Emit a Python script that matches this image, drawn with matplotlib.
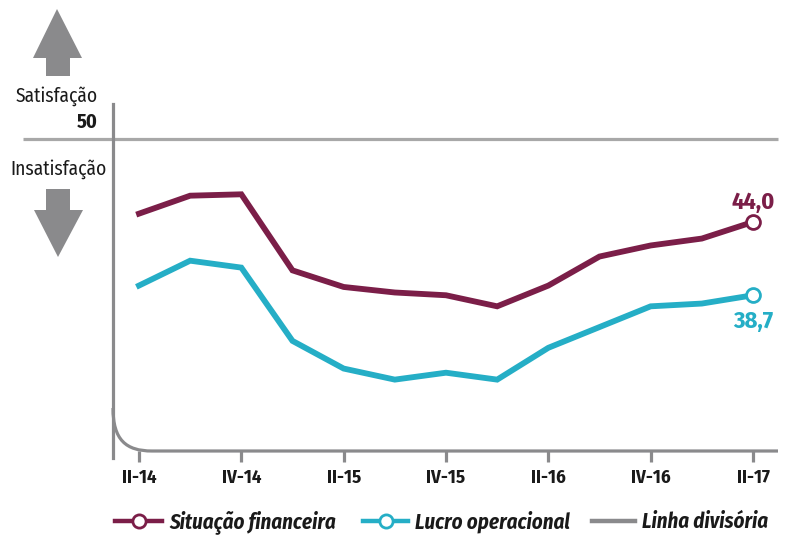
import numpy as np
from matplotlib import pyplot as plt
from matplotlib.path import Path
from matplotlib.patches import PathPatch, Polygon
from matplotlib.lines import Line2D
import matplotlib.transforms as mtransforms

# Quarterly index values (50 = dividing line between satisfaction / dissatisfaction)
quarters = ["II-14", "III-14", "IV-14", "I-15", "II-15", "III-15", "IV-15",
            "I-16", "II-16", "III-16", "IV-16", "I-17", "II-17"]
situacao = [44.6, 45.9, 46.0, 40.5, 39.3, 38.9, 38.7, 37.9, 39.4, 41.5, 42.3, 42.8, 44.0]
lucro = [39.4, 41.2, 40.7, 35.4, 33.4, 32.6, 33.1, 32.6, 34.9, 36.4, 37.9, 38.1, 38.7]
tick_labels = ["II-14", "IV-14", "II-15", "IV-15", "II-16", "IV-16", "II-17"]
divisoria = 50

PURPLE = "#7b1e48"
CYAN = "#25aec6"
GRAY = "#8a8a8c"
LIGHTGRAY = "#a8a8a8"
INK = "#1a1a1a"
FONT = ["Fira Sans Condensed", "DejaVu Sans"]

fig = plt.figure(figsize=(7.9, 5.37), dpi=100)
ax = fig.add_axes([0, 0, 1, 1])
ax.set_xlim(-2.716, 12.723)
ax.set_ylim(21.22, 60.05)
ax.axis("off")

# pixel transform (origin top-left) for the furniture around the plot
pix = mtransforms.Affine2D().scale(1, -1).translate(0, 537)

x = np.arange(len(quarters))

# dividing line at 50
ax.hlines(divisoria, -2.27, 12.49, color=LIGHTGRAY, lw=2.3, zorder=1)

# left axis with rounded corner into the baseline
ax.add_line(Line2D([113, 113], [104, 458], transform=pix, color=GRAY, lw=2.3))
verts = [(113, 408), (113, 440), (126, 451), (152, 451), (778, 451)]
codes = [Path.MOVETO, Path.CURVE4, Path.CURVE4, Path.CURVE4, Path.LINETO]
ax.add_patch(PathPatch(Path(verts, codes), transform=pix, fill=False,
                       edgecolor=GRAY, lw=2.3))

# ticks and labels on every second quarter
base = 27.44
for i, lab in zip(x[::2], tick_labels):
    ax.vlines(i, base - 0.8, base, color=GRAY, lw=2.3)
    ax.text(i, base - 1.95, lab, ha="center", va="center", fontsize=13.5,
            fontweight="bold", family=FONT, color=INK)

# series
ax.plot(x, situacao, color=PURPLE, lw=4.2, solid_joinstyle="miter", zorder=3)
ax.plot(x, lucro, color=CYAN, lw=4.2, solid_joinstyle="miter", zorder=3)
ax.plot(x[-1], situacao[-1], "o", ms=10, mfc="white", mec=PURPLE, mew=2, zorder=4)
ax.plot(x[-1], lucro[-1], "o", ms=10, mfc="white", mec=CYAN, mew=2, zorder=4)
ax.text(x[-1], situacao[-1] + 1.4, f"{situacao[-1]:.1f}".replace(".", ","),
        ha="center", va="center", fontsize=17.5, fontweight="bold", family=FONT, color=PURPLE)
ax.text(x[-1], lucro[-1] - 1.85, f"{lucro[-1]:.1f}".replace(".", ","),
        ha="center", va="center", fontsize=17.5, fontweight="bold", family=FONT, color=CYAN)

# satisfaction arrows and captions
up = [(57, 9), (82, 58), (70, 58), (70, 76), (46, 76), (46, 58), (33, 58)]
down = [(46, 189), (70, 189), (70, 210), (83, 210), (58, 257), (34, 210), (46, 210)]
ax.add_patch(Polygon(up, closed=True, transform=pix, color=GRAY, lw=0))
ax.add_patch(Polygon(down, closed=True, transform=pix, color=GRAY, lw=0))
ax.text(57, 96, "Satisfação", transform=pix, ha="center", va="center",
        fontsize=14, family=FONT, color=INK)
ax.text(98, 122, "50", transform=pix, ha="right", va="center",
        fontsize=14.5, fontweight="bold", family=FONT, color=INK)
ax.text(58, 169, "Insatisfação", transform=pix, ha="center", va="center",
        fontsize=14, family=FONT, color=INK)

# legend row
legend_items = [
    ("Situação financeira", PURPLE, True, 115, 162),
    ("Lucro operacional", CYAN, True, 363, 408),
    ("Linha divisória", GRAY, False, 592, 635),
]
for label, col, marker, x0, x1 in legend_items:
    ax.add_line(Line2D([x0, x1], [521, 521], transform=pix, color=col, lw=3.2))
    if marker:
        ax.add_line(Line2D([(x0 + x1) / 2], [521], transform=pix, marker="o", ms=9.5,
                           mfc="white", mec=col, mew=2))
    ax.text(x1 + 7, 522, label, transform=pix, ha="left", va="center", fontsize=15,
            fontweight="bold", style="italic", family=FONT, color=INK)

fig.savefig("out.png", dpi=100)
